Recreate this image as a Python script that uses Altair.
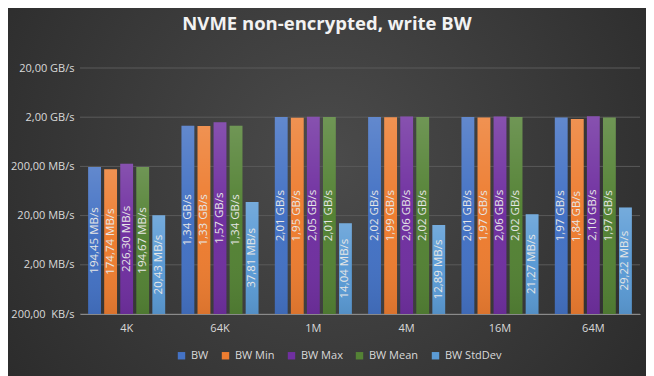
import altair as alt
import pandas as pd

categories = ["4K", "64K", "1M", "4M", "16M", "64M"]
series = ["BW", "BW Min", "BW Max", "BW Mean", "BW StdDev"]
colors = ["#4472C4", "#ED7D31", "#7030A0", "#548235", "#5B9BD5"]

# values in MB/s
bw = [194.45, 1340, 2010, 2020, 2010, 1970]
bw_min = [174.74, 1330, 1950, 1990, 1970, 1840]
bw_max = [226.30, 1570, 2050, 2060, 2060, 2100]
bw_mean = [194.67, 1340, 2010, 2020, 2020, 1970]
bw_std = [20.43, 37.81, 14.04, 12.89, 21.27, 29.22]

tick_values = [0.2, 2, 20, 200, 2000, 20000]


def fmt(v):
    if v >= 1000:
        return f"{v/1000:.2f}".replace(".", ",") + " GB/s"
    return f"{v:.2f}".replace(".", ",") + " MB/s"


rows = []
for s, vals in zip(series, [bw, bw_min, bw_max, bw_mean, bw_std]):
    for c, v in zip(categories, vals):
        rows.append({"cat": c, "series": s, "value": v, "label": fmt(v)})
df = pd.DataFrame(rows)
grid_df = pd.DataFrame({"tick": tick_values})

label_expr = (
    "datum.value >= 1000 ? replace(format(datum.value/1000, '.2f'), '.', ',') + ' GB/s' : "
    "datum.value >= 1 ? replace(format(datum.value, '.2f'), '.', ',') + ' MB/s' : "
    "replace(format(datum.value*1000, '.2f'), '.', ',') + ' \u00a0KB/s'"
)

W, H = 560, 246
PAD = {"left": 72, "top": 60, "right": 6, "bottom": 62}

xenc = alt.X("cat:N", sort=categories, title=None,
             scale=alt.Scale(paddingInner=0.14, paddingOuter=0.07),
             axis=alt.Axis(labelAngle=0, ticks=False, domainColor="#8a8a8a",
                           labelColor="#d9d9d9", labelFontSize=11, labelPadding=8,
                           labelFont="Open Sans", grid=False, zindex=1))
xoff = alt.XOffset("series:N", sort=series,
                   scale=alt.Scale(paddingInner=0.2, paddingOuter=0.1))
yscale = alt.Scale(type="log", domain=[0.2, 20000])

bg = alt.Chart(alt.Data(values=[{"a": 1}])).mark_rect(
    fill={"gradient": "radial", "x1": 0.5, "y1": 0.45, "x2": 0.5, "y2": 0.45,
          "r1": 0, "r2": 0.72,
          "stops": [{"offset": 0, "color": "#4b4b4b"}, {"offset": 1, "color": "#262626"}]}
).encode(x=alt.value(-PAD["left"]), x2=alt.value(W + PAD["right"]),
         y=alt.value(-PAD["top"]), y2=alt.value(H + PAD["bottom"]))

grid = alt.Chart(grid_df).mark_rule(color="#5a5a5a", strokeWidth=1).encode(
    y=alt.Y("tick:Q", scale=yscale),
)

base = alt.Chart(df).transform_calculate(
    ypos="sqrt(0.2 * datum.value)"
)

bars = base.mark_bar().encode(
    x=xenc,
    xOffset=xoff,
    y=alt.Y("value:Q", scale=yscale, stack=None, title=None,
            axis=alt.Axis(values=tick_values, labelExpr=label_expr, ticks=False,
                          domain=False, grid=False, labelColor="#d9d9d9",
                          labelFontSize=11, labelPadding=6, labelFont="Open Sans",
                          zindex=1)),
    y2=alt.datum(0.2),
    color=alt.Color("series:N", sort=series,
                    scale=alt.Scale(domain=series, range=colors),
                    legend=alt.Legend(orient="none", legendX=96, legendY=282,
                                      direction="horizontal", title=None,
                                      symbolType="square", symbolSize=55,
                                      labelColor="#d9d9d9", labelFontSize=11,
                                      labelFont="Open Sans", columnPadding=11,
                                      symbolStrokeWidth=0)),
)

shade = base.mark_bar(
    fill={"gradient": "linear", "x1": 0, "y1": 0, "x2": 0, "y2": 1,
          "stops": [{"offset": 0, "color": "rgba(255,255,255,0.16)"},
                    {"offset": 0.5, "color": "rgba(255,255,255,0.0)"},
                    {"offset": 1, "color": "rgba(0,0,0,0.08)"}]}
).encode(
    x=alt.X("cat:N", sort=categories),
    xOffset=alt.XOffset("series:N", sort=series),
    y=alt.Y("value:Q", scale=yscale, stack=None),
    y2=alt.datum(0.2),
)

texts = base.mark_text(angle=270, color="#e6e6e6", fontSize=11.5, font="Open Sans",
                       baseline="middle").encode(
    x=alt.X("cat:N", sort=categories),
    xOffset=alt.XOffset("series:N", sort=series),
    y=alt.Y("ypos:Q", scale=yscale),
    text="label:N",
)

chart = alt.layer(bg, grid, bars, shade, texts).properties(
    width=W, height=H,
    autosize=alt.AutoSizeParams(type="none"),
    background="#2e2e2e",
    padding=PAD,
    title=alt.Title("NVME non-encrypted, write BW", color="#f2f2f2", fontSize=18.5,
                    font="Open Sans", fontWeight="bold", offset=-25, anchor="middle",
                    frame="bounds"),
).configure_view(stroke=None)

chart.save("out.html", embed_options={"renderer": "svg", "actions": False})
